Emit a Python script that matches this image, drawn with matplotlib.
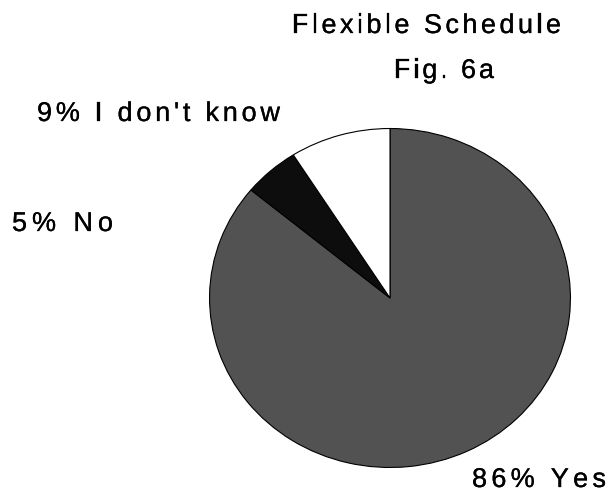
import matplotlib
matplotlib.use("Agg")
import matplotlib.pyplot as plt
import matplotlib.patheffects as pe
from matplotlib.ft2font import FT2Font
from matplotlib.font_manager import findfont, FontProperties

categories = ["Yes", "No", "I don't know"]
values = [86, 5, 9]
colors = ["#525252", "#0d0d0d", "#ffffff"]
title_lines = ["Flexible Schedule", "Fig. 6a"]

plt.rcParams['font.family'] = ['Liberation Sans', 'DejaVu Sans']

W, H = 611, 494
DPI = 100
fig = plt.figure(figsize=(W / DPI, H / DPI), dpi=DPI)

# pie as a slightly wide ellipse
ax = fig.add_axes([209 / W, (H - 468) / H, 362 / W, 340 / H])
ax.pie(values, colors=colors, startangle=90, counterclock=False,
       wedgeprops=dict(edgecolor="black", linewidth=0.8))
ax.set_aspect('auto')
ax.set_xlim(-1.003, 1.003)
ax.set_ylim(-1.003, 1.003)
ax.axis('off')

fs = 19.5
prop = FontProperties(family='Liberation Sans', size=fs)
ft = FT2Font(findfont(prop))
ft.set_size(fs, DPI)
effects = [pe.withStroke(linewidth=0.2, foreground='black')]


def adv(c):
    g = ft.load_char(ord(c))
    return g.linearHoriAdvance / 65536


def spaced(s, x0, x1, base_y):
    """Draw string s letter-spaced so it spans pixel x0..x1, baseline at base_y (px from top)."""
    widths = [adv(c) for c in s]
    natural = sum(widths)
    sp = (x1 - x0 - natural) / max(len(s) - 1, 1)
    x = x0
    for c, w in zip(s, widths):
        if c != ' ':
            fig.text(x / W, 1 - base_y / H, c, ha='left', va='baseline',
                     fontproperties=prop, color='black', path_effects=effects)
        x += w + sp


spaced(title_lines[0], 292, 561, 33)
spaced(title_lines[1], 394, 494, 78)

label_box = {"I don't know": (37, 280, 121), "No": (12, 113, 231), "Yes": (472, 606, 487)}
for c, v in zip(categories, values):
    x0, x1, by = label_box[c]
    spaced(f"{v}% {c}", x0, x1, by)

fig.savefig("out.png", dpi=DPI)
